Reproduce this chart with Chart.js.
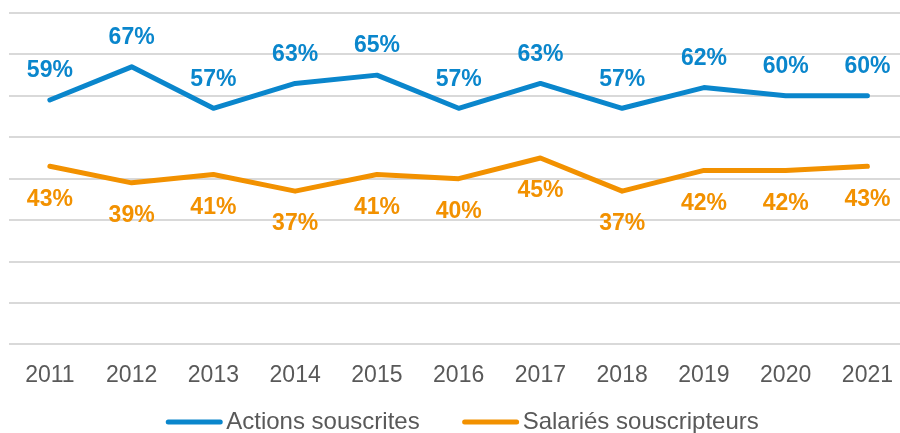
<!DOCTYPE html>
<html>
<head>
<meta charset="utf-8">
<script src="https://cdn.jsdelivr.net/npm/chart.js@4/dist/chart.umd.min.js"></script>
<style>
  html, body { margin: 0; padding: 0; background: #fff; overflow: hidden; }
  #wrap { position: relative; width: 910px; height: 433px; }
</style>
</head>
<body>
<div id="wrap"><canvas id="myChart"></canvas></div>
<script>
const years = ['2011', '2012', '2013', '2014', '2015', '2016', '2017', '2018', '2019', '2020', '2021'];
const actions = [59, 67, 57, 63, 65, 57, 63, 57, 62, 60, 60];
const salaries = [43, 39, 41, 37, 41, 40, 45, 37, 42, 42, 43];

const blue = '#0a86cc';
const orange = '#f29100';
const fontFam = '"Liberation Sans", Arial, sans-serif';

// labels au-dessus (bleu) ou en dessous (orange) des points
const pointLabels = {
  id: 'pointLabels',
  afterDatasetsDraw(chart) {
    const c = chart.ctx;
    c.save();
    c.font = 'bold 23px ' + fontFam;
    c.textAlign = 'center';
    c.textBaseline = 'middle';
    chart.data.datasets.forEach((ds, i) => {
      const meta = chart.getDatasetMeta(i);
      c.fillStyle = ds.borderColor;
      meta.data.forEach((pt, j) => {
        const dy = i === 0 ? -29 : 33;
        c.fillText(ds.data[j] + '%', pt.x, pt.y + dy);
      });
    });
    c.restore();
  }
};

// légende dessinée à la main (trait + texte collés)
const bottomLegend = {
  id: 'bottomLegend',
  afterDraw(chart) {
    const c = chart.ctx;
    const y = 422;
    const lineLen = 56, gap = 4, between = 43;
    c.save();
    c.font = '24px ' + fontFam;
    c.textBaseline = 'middle';
    const items = chart.data.datasets.map(ds => ({
      text: ds.label, color: ds.borderColor, w: c.measureText(ds.label).width
    }));
    let total = items.reduce((s, it) => s + lineLen + gap + it.w, 0) + between * (items.length - 1);
    let x = (925 - total) / 2;
    items.forEach(it => {
      c.strokeStyle = it.color;
      c.lineWidth = 5;
      c.lineCap = 'round';
      c.beginPath();
      c.moveTo(x + 2, y);
      c.lineTo(x + lineLen - 2, y);
      c.stroke();
      c.fillStyle = '#595959';
      c.fillText(it.text, x + lineLen + gap, y);
      x += lineLen + gap + it.w + between;
    });
    c.restore();
  }
};

document.addEventListener('DOMContentLoaded', function() {
  const ctx = document.getElementById('myChart');

  new Chart(ctx, {
    type: 'line',
    data: {
      labels: years,
      datasets: [{
        label: 'Actions souscrites',
        data: actions,
        borderColor: blue,
        backgroundColor: blue,
        borderWidth: 5,
        borderCapStyle: 'round',
        borderJoinStyle: 'round',
        pointRadius: 0,
        tension: 0
      }, {
        label: 'Salariés souscripteurs',
        data: salaries,
        borderColor: orange,
        backgroundColor: orange,
        borderWidth: 5,
        borderCapStyle: 'round',
        borderJoinStyle: 'round',
        pointRadius: 0,
        tension: 0
      }]
    },
    options: {
      responsive: true,
      maintainAspectRatio: false,
      animation: false,
      layout: { padding: { top: 13, left: 9, right: 0, bottom: 27 } },
      plugins: {
        tooltip: { enabled: false },
        legend: { display: false }
      },
      scales: {
        x: {
          offset: true,
          grid: { display: false, drawTicks: false },
          border: { display: false },
          ticks: {
            color: '#595959',
            padding: 17,
            font: { size: 23, family: fontFam }
          }
        },
        y: {
          min: 0,
          max: 80,
          ticks: { stepSize: 10, display: false },
          border: { display: false },
          grid: { color: '#d9d9d9', lineWidth: 2, drawTicks: false }
        }
      }
    },
    plugins: [pointLabels, bottomLegend]
  });
});
</script>
</body>
</html>
